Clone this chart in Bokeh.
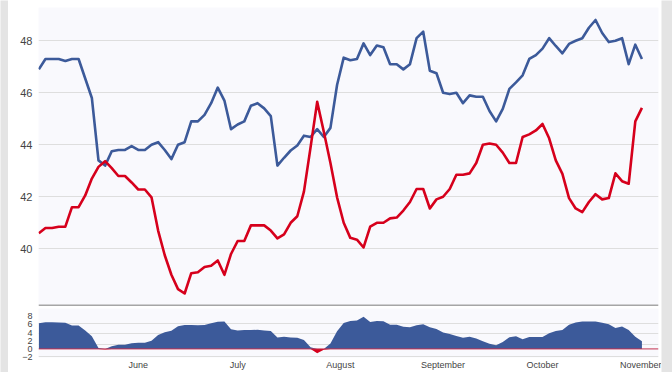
import numpy as np
import pandas as pd
from bokeh.plotting import figure
from bokeh.layouts import column, row
from bokeh.models import Range1d, FixedTicker, Span, DatetimeTickFormatter
from bokeh.embed import file_html
from bokeh.resources import INLINE

# ---------------- data ----------------
start = pd.Timestamp("2012-05-02")
day_offsets = list(range(0, 183, 2))

blue_series = [46.9, 47.3, 47.3, 47.3, 47.22, 47.3, 47.3, 46.55, 45.8, 43.4,
               43.2, 43.75, 43.8, 43.8, 43.95, 43.8, 43.8, 44.0, 44.1, 43.8,
               43.45, 44.0, 44.1, 44.9, 44.9, 45.15, 45.6, 46.2, 45.7, 44.6,
               44.78, 44.9, 45.5, 45.6, 45.4, 45.1, 43.2, 43.5, 43.78, 43.97,
               44.35, 44.3, 44.6, 44.3, 44.65, 46.3, 47.35, 47.25, 47.3, 47.9,
               47.45, 47.82, 47.75, 47.1, 47.1, 46.9, 47.1, 48.1, 48.35, 46.85,
               46.75, 46.0, 45.95, 46.0, 45.6, 45.9, 45.85, 45.85, 45.3, 44.9,
               45.38, 46.15, 46.4, 46.67, 47.3, 47.45, 47.7, 48.1, 47.8, 47.52,
               47.88, 48.0, 48.1, 48.5, 48.8, 48.3, 47.95, 48.0, 48.1, 47.1,
               47.85, 47.3]

red_series = [40.6, 40.8, 40.8, 40.85, 40.85, 41.6, 41.6, 42.05, 42.7, 43.15,
              43.37, 43.1, 42.8, 42.8, 42.55, 42.28, 42.28, 41.98, 40.7, 39.75,
              39.0, 38.45, 38.28, 39.06, 39.1, 39.3, 39.35, 39.55, 39.0, 39.8,
              40.3, 40.3, 40.9, 40.9, 40.9, 40.7, 40.4, 40.55, 41.0, 41.25,
              42.2, 43.9, 45.65, 44.5, 43.3, 41.98, 41.0, 40.42, 40.35, 40.05,
              40.85, 41.0, 41.0, 41.17, 41.2, 41.47, 41.8, 42.3, 42.3, 41.55,
              41.9, 42.0, 42.3, 42.85, 42.85, 42.9, 43.3, 44.0, 44.05, 44.0,
              43.7, 43.3, 43.3, 44.3, 44.4, 44.55, 44.8, 44.25, 43.4, 42.88,
              41.95, 41.55, 41.41, 41.8, 42.1, 41.9, 41.95, 42.9, 42.6, 42.5,
              44.9, 45.42]

top_y_ticks = [40, 42, 44, 46, 48]
bottom_y_ticks = [-2, 0, 2, 4, 6, 8]
bottom_grid_lines = [-1.87, 1.0, 3.65, 6.28]
month_ticks = ["2012-06-01", "2012-07-01", "2012-08-01",
               "2012-09-01", "2012-10-01", "2012-11-01"]

# ---------------- derived ----------------
dates = [start + pd.Timedelta(days=d) for d in day_offsets]
diff = np.array(blue_series) - np.array(red_series)
pos = np.maximum(diff, 0)
neg = np.minimum(diff, 0)

BLUE = "#3c5a9a"
RED = "#d6001c"
FRAME_BG = "#f9f9fd"
PAGE_BG = "#e4e4e4"
GRID = "#dedede"
LABEL = "#444444"
FONT = "Liberation Sans"

x0 = start - pd.Timedelta(days=0.1)
x1 = x0 + pd.Timedelta(days=187.1)
x_range = Range1d(x0, x1)


def pad(w, h):
    f = figure(width=w, height=h, output_backend="svg", toolbar_location=None,
               min_border=0, background_fill_color=PAGE_BG,
               border_fill_color=PAGE_BG, outline_line_color=None,
               x_range=Range1d(0, 1), y_range=Range1d(0, 1))
    f.axis.visible = False
    f.grid.visible = False
    return f


# ---------------- top chart ----------------
p1 = figure(width=653, height=303, x_axis_type="datetime", x_range=x_range,
            y_range=Range1d(37.78, 49.28), output_backend="svg",
            toolbar_location=None, min_border_left=30, min_border_right=3,
            min_border_top=4, min_border_bottom=0,
            background_fill_color=FRAME_BG, border_fill_color="white",
            outline_line_color=None)
p1.line(dates, blue_series, line_color=BLUE, line_width=2.6, line_join="round")
p1.line(dates, red_series, line_color=RED, line_width=2.6, line_join="round")
p1.add_layout(Span(location=37.82, dimension="width", line_color="#a6a6a6", line_width=2))

p1.yaxis.ticker = FixedTicker(ticks=top_y_ticks)
p1.yaxis.axis_line_color = None
p1.yaxis.major_tick_line_color = None
p1.yaxis.minor_tick_line_color = None
p1.yaxis.major_tick_out = 0
p1.yaxis.minor_tick_out = 0
p1.yaxis.major_label_text_font_size = "11px"
p1.yaxis.major_label_text_color = LABEL
p1.yaxis.major_label_text_font = FONT
p1.yaxis.major_label_standoff = 6
p1.ygrid.ticker = FixedTicker(ticks=top_y_ticks)
p1.ygrid.grid_line_color = GRID
p1.xgrid.grid_line_color = None
p1.xaxis.visible = False

# ---------------- bottom chart ----------------
p2 = figure(width=653, height=66, x_axis_type="datetime", x_range=x_range,
            y_range=Range1d(-2.1, 9.88), output_backend="svg",
            toolbar_location=None, min_border_left=30, min_border_right=3,
            min_border_top=2, min_border_bottom=0,
            background_fill_color=FRAME_BG, border_fill_color="white",
            outline_line_color=None)
p2.varea(x=dates, y1=0, y2=pos, fill_color=BLUE)
p2.varea(x=dates, y1=neg, y2=0, fill_color=RED)
p2.add_layout(Span(location=0, dimension="width", line_color="#c2304f", line_width=1))

p2.yaxis.ticker = FixedTicker(ticks=bottom_y_ticks)
p2.yaxis.axis_line_color = None
p2.yaxis.major_tick_line_color = None
p2.yaxis.minor_tick_line_color = None
p2.yaxis.major_tick_out = 0
p2.yaxis.minor_tick_out = 0
p2.yaxis.major_label_text_font_size = "9px"
p2.yaxis.major_label_text_color = LABEL
p2.yaxis.major_label_text_font = FONT
p2.yaxis.major_label_standoff = 6
p2.ygrid.ticker = FixedTicker(ticks=bottom_grid_lines)
p2.ygrid.grid_line_color = GRID
p2.xgrid.grid_line_color = None
p2.xaxis.ticker = FixedTicker(ticks=[pd.Timestamp(m).value / 1e6 for m in month_ticks])
p2.xaxis.formatter = DatetimeTickFormatter(days="%B", months="%B", years="%B")
p2.xaxis.axis_line_color = None
p2.xaxis.major_tick_line_color = None
p2.xaxis.minor_tick_line_color = None
p2.xaxis.major_tick_out = 0
p2.xaxis.minor_tick_out = 0
p2.xaxis.major_label_text_font_size = "9px"
p2.xaxis.major_label_text_color = LABEL
p2.xaxis.major_label_text_font = FONT
p2.xaxis.major_label_standoff = 2

root = row(pad(8, 372),
           column(pad(653, 3), p1, p2, spacing=0),
           pad(11, 372), spacing=0)

open("out.html", "w").write(file_html(root, INLINE))
